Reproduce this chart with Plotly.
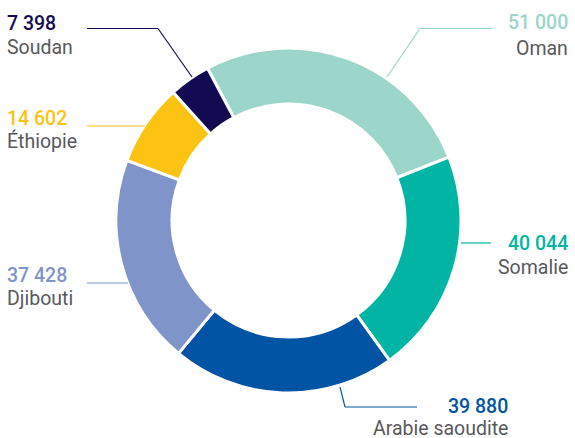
import plotly.graph_objects as go

# ---- data ----
countries = ["Oman", "Somalie", "Arabie saoudite", "Djibouti", "Éthiopie", "Soudan"]
values = [51000, 40044, 39880, 37428, 14602, 7398]
value_labels = ["51 000", "40 044", "39 880", "37 428", "14 602", "7 398"]
colors = ["#9cd5ca", "#00b5a3", "#0054a3", "#7f94c9", "#fdc312", "#130b52"]

W, H = 575, 438
CX, CY, R = 288.5, 220.5, 172.5

def px(x, y):
    return x / W, 1 - y / H

fig = go.Figure()
fig.add_trace(go.Pie(
    labels=countries, values=values, sort=False, direction="clockwise",
    rotation=-28, hole=0.675, textinfo="none", hoverinfo="label+value",
    marker=dict(colors=colors, line=dict(color="white", width=3)),
    domain=dict(x=[(CX - R) / W, (CX + R) / W], y=[1 - (CY + R) / H, 1 - (CY - R) / H]),
    showlegend=False,
))

# label layout: (anchor x, value center y, label center y, align, leader polyline)
label_layout = {
    "Oman": (570, 22.5, 48, "right", [(492, 28.5), (420, 28.5), (387, 77)]),
    "Somalie": (570, 243.5, 267, "right", [(491, 243), (461, 243)]),
    "Arabie saoudite": (510, 406, 428.5, "right", [(417, 407), (345, 407), (340, 387)]),
    "Djibouti": (5, 275, 298, "left", [(87, 283), (128, 283)]),
    "Éthiopie": (5, 118, 141, "left", [(87, 126), (145, 126)]),
    "Soudan": (5, 23, 47.5, "left", [(87, 28.5), (158, 28.5), (192, 77)]),
}

FONT = "Roboto"
SIZE = 19.5
for name, val, col in zip(countries, value_labels, colors):
    ax, vy, ly, align, pts = label_layout[name]
    xanchor = "right" if align == "right" else "left"
    x0, y0 = px(ax, vy)
    fig.add_annotation(x=x0, y=y0, xref="paper", yref="paper", text=val, showarrow=False,
                       xanchor=xanchor, yanchor="middle",
                       font=dict(family=FONT, size=SIZE, color=col, weight=500))
    x1, y1 = px(ax, ly)
    fig.add_annotation(x=x1, y=y1, xref="paper", yref="paper", text=name, showarrow=False,
                       xanchor=xanchor, yanchor="middle",
                       font=dict(family=FONT, size=SIZE, color="#58595b"))
    for i in range(len(pts) - 1):
        a = px(*pts[i]); b = px(*pts[i + 1])
        fig.add_shape(type="line", xref="paper", yref="paper", x0=a[0], y0=a[1], x1=b[0], y1=b[1],
                      line=dict(color=col, width=1.2))

fig.update_layout(width=W, height=H, margin=dict(l=0, r=0, t=0, b=0),
                  paper_bgcolor="white", plot_bgcolor="white")
fig.write_html("out.html", config={"displayModeBar": False},
               post_script="document.body.style.margin='0';document.body.style.overflow='hidden';")
